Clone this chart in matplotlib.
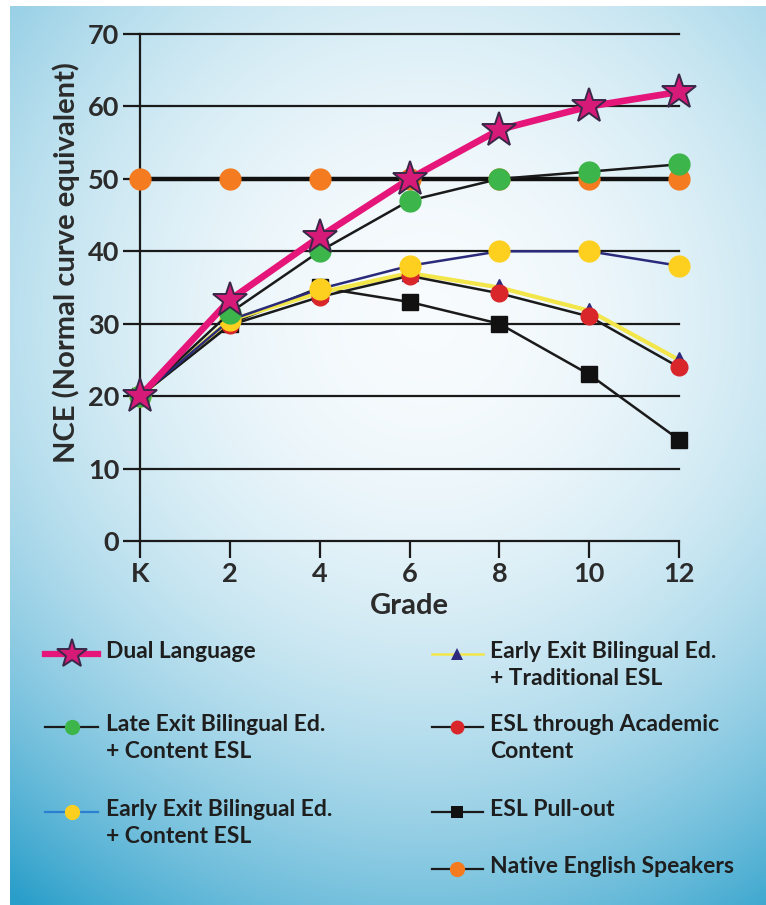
import numpy as np
import matplotlib
matplotlib.use("Agg")
import matplotlib.pyplot as plt
from matplotlib.lines import Line2D

# ---------------- data ----------------
grades = [0, 2, 4, 6, 8, 10, 12]
grade_labels = ["K", "2", "4", "6", "8", "10", "12"]

dual_language = [20, 33.3, 42, 50, 56.8, 60, 62]
late_exit_content = [20, 31.5, 40, 47, 50, 51, 52]
early_exit_content = [20, 30.5, 34.8, 38, 40, 40, 38]
early_exit_traditional = [20, 30.5, 34.3, 37, 35, 31.8, 25]
esl_academic = [20, 29.8, 33.7, 36.6, 34.2, 31, 24]
esl_pullout = [20, 30, 35, 33, 30, 23, 14]
native_english = [50, 50, 50, 50, 50, 50, 50]

yticks = [0, 10, 20, 30, 40, 50, 60, 70]

W, H = 766, 905
DPI = 100
plt.rcParams['font.family'] = ['Lato', 'DejaVu Sans']

fig = plt.figure(figsize=(W / DPI, H / DPI), dpi=DPI)
fig.patch.set_facecolor("white")

def fx(px):
    return px / W

def fy(py):
    return 1 - py / H

# ---------------- background gradient panel ----------------
bg = fig.add_axes([fx(10), 0, 1 - fx(10), fy(6)])
bg.set_axis_off()
gh, gw = 300, 260
yy, xx = np.mgrid[0:1:gh * 1j, 0:1:gw * 1j]
h = ((xx - 0.55) / 0.55) ** 2
v = np.where(yy > 0.35, ((yy - 0.35) / 0.65) ** 2, 0)
u = np.where(yy < 0.35, ((0.35 - yy) / 0.35) ** 2, 0)
t = np.clip(0.3 * h + 0.62 * v + 0.16 * u + 0.1 * h * v, 0, 1)
white = np.array([0.97, 0.985, 0.995])
blue = np.array([0.16, 0.62, 0.79])
img = white[None, None, :] * (1 - t[..., None]) + blue[None, None, :] * t[..., None]
bg.imshow(img, aspect="auto", extent=[0, 1, 1, 0], interpolation="bilinear")
bg.set_xlim(0, 1)
bg.set_ylim(1, 0)

# ---------------- main axes ----------------
ax = fig.add_axes([fx(140), fy(541), fx(679) - fx(140), fy(34) - fy(541)])
ax.patch.set_alpha(0)
ax.set_xlim(0, 12)
ax.set_ylim(0, 70)

for yv in yticks[1:]:
    ax.plot([0, 12], [yv, yv], color="#1a1a1a", lw=1.6, zorder=1, clip_on=False)

for s in ["top", "right"]:
    ax.spines[s].set_visible(False)
for s in ["left", "bottom"]:
    ax.spines[s].set_linewidth(1.6)
    ax.spines[s].set_color("#1a1a1a")

ax.set_xticks(grades)
ax.set_xticklabels(grade_labels)
ax.set_yticks(yticks)
ax.tick_params(axis="both", direction="out", length=12, width=1.6, color="#1a1a1a",
               labelsize=19.5, labelcolor="#2b2b2b", pad=3)
for lab in ax.get_xticklabels() + ax.get_yticklabels():
    lab.set_fontweight("bold")

ax.set_xlabel("Grade", fontsize=21, fontweight="bold", color="#2b2b2b", labelpad=5)
ax.set_ylabel("NCE (Normal curve equivalent)", fontsize=21, fontweight="bold",
              color="#2b2b2b")
ax.yaxis.set_label_coords(-0.112, 0.55)

common = dict(clip_on=False)
# Native English speakers
ax.plot(grades, native_english, color="#111111", lw=3.2, marker="o", ms=15,
        mfc="#f47b20", mec="#f47b20", zorder=3, **common)
# ESL pull-out
ax.plot(grades, esl_pullout, color="#1a1a1a", lw=1.8, marker="s", ms=11,
        mfc="#111111", mec="#111111", zorder=4, **common)
# ESL through academic content
ax.plot(grades, esl_academic, color="#1a1a1a", lw=1.8, marker="o", ms=12,
        mfc="#d8262b", mec="#d8262b", zorder=6, **common)
# Early exit + traditional ESL
ax.plot(grades, early_exit_traditional, color="#f2e64a", lw=3.0, marker="^", ms=11,
        mfc="#2e2a7e", mec="#2e2a7e", zorder=5, **common)
# Early exit + content ESL
ax.plot(grades, early_exit_content, color="#2a2a7a", lw=1.8, marker="o", ms=15,
        mfc="#fdd020", mec="#fdd020", zorder=6, **common)
# Late exit + content ESL
ax.plot(grades, late_exit_content, color="#1a1a1a", lw=1.8, marker="o", ms=15,
        mfc="#3cb54a", mec="#3cb54a", zorder=7, **common)
# Dual language
ax.plot(grades, dual_language, color="#e5157a", lw=4.8, marker="*", ms=26,
        mfc="#d61a78", mec="#3a2848", mew=1.4, zorder=8, **common)

# ---------------- legend (manual, figure coords) ----------------
def handle(x0, x1, y, color, lw, marker, ms, mfc, mec, mew=0):
    fig.add_artist(Line2D([fx(x0), fx(x1)], [fy(y), fy(y)], color=color, lw=lw,
                          transform=fig.transFigure))
    fig.add_artist(Line2D([fx((x0 + x1) / 2)], [fy(y)], marker=marker, ms=ms,
                          mfc=mfc, mec=mec, mew=mew, lw=0,
                          transform=fig.transFigure))

def label(x, y, txt):
    fig.text(fx(x), fy(y), txt, fontsize=16.5, fontweight="bold", color="#1e1e1e",
             ha="left", va="top", linespacing=1.36)

# left column
handle(45, 98, 654, "#e5157a", 4.5, "*", 22, "#d61a78", "#3a2848", 1.4)
label(106, 641, "Dual Language")
handle(45, 98, 727, "#1a1a1a", 1.6, "o", 11, "#3cb54a", "#3cb54a")
label(106, 714, "Late Exit Bilingual Ed.\n+ Content ESL")
handle(45, 98, 812, "#2a7fd0", 1.6, "o", 11, "#fdd020", "#fdd020")
label(106, 799, "Early Exit Bilingual Ed.\n+ Content ESL")
# right column
handle(432, 483, 654, "#f2e64a", 1.8, "^", 9, "#2e2a7e", "#2e2a7e")
label(490, 641, "Early Exit Bilingual Ed.\n+ Traditional ESL")
handle(432, 483, 727, "#1a1a1a", 1.6, "o", 10, "#d8262b", "#d8262b")
label(490, 714, "ESL through Academic\nContent")
handle(432, 483, 812, "#1a1a1a", 1.6, "s", 9, "#111111", "#111111")
label(490, 799, "ESL Pull-out")
handle(432, 483, 869, "#1a1a1a", 1.6, "o", 11, "#f47b20", "#f47b20")
label(490, 856, "Native English Speakers")

fig.savefig("out.png", dpi=DPI)
